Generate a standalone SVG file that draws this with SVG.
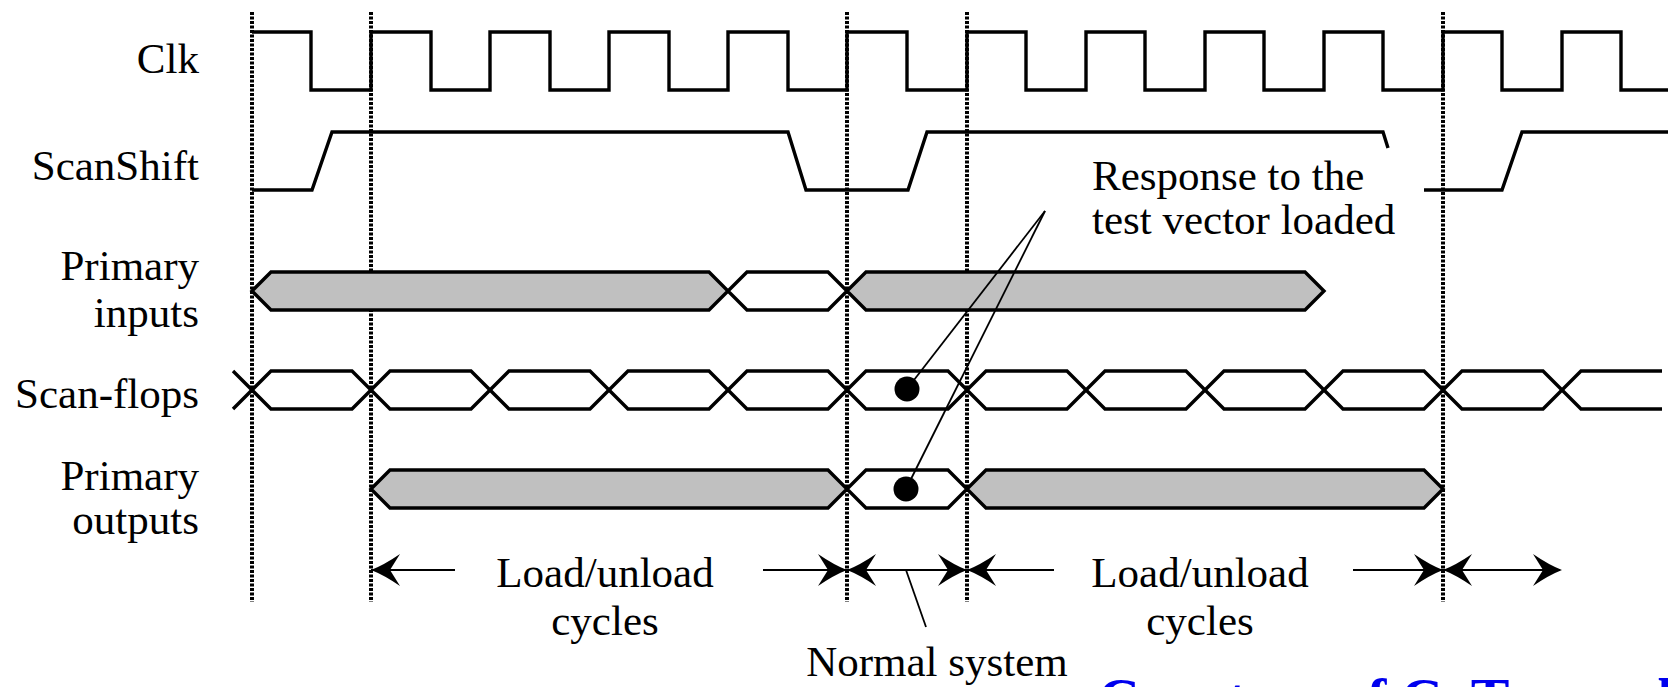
<svg xmlns="http://www.w3.org/2000/svg" width="1668" height="687" viewBox="0 0 1668 687">
<style>
.lbl{font-family:"Liberation Serif","Times New Roman",serif;font-size:43px;fill:#000}
.end{text-anchor:end}
.mid{text-anchor:middle}
.wave{fill:none;stroke:#000;stroke-width:3.4;stroke-linejoin:miter}
.bus{stroke:#000;stroke-width:3.4;stroke-linejoin:miter}
.gray{fill:#c0c0c0}
.white{fill:#fff}
.dot{stroke:#000;stroke-width:4;stroke-dasharray:3 1.5;fill:none}
.thin{stroke:#000;stroke-width:1.8;fill:none}
.credit{font-family:"Liberation Serif","Times New Roman",serif;font-size:58px;font-weight:bold;fill:#0000ee}
</style>
<defs>
<path id="ah" d="M0,0 Q-13,-5 -29,-16 L-19,0 L-29,16 Q-13,5 0,0 Z" fill="#000"/>
</defs>
<rect width="1668" height="687" fill="#fff"/>

<g id="gridlines">
<line class="dot" x1="252" y1="12" x2="252" y2="602"/>
<line class="dot" x1="371" y1="12" x2="371" y2="602"/>
<line class="dot" x1="847" y1="12" x2="847" y2="602"/>
<line class="dot" x1="967" y1="12" x2="967" y2="602"/>
<line class="dot" x1="1443" y1="12" x2="1443" y2="602"/>
</g>

<g id="labels">
<text class="lbl end" x="199" y="73">Clk</text>
<text class="lbl end" x="199" y="180">ScanShift</text>
<text class="lbl end" x="199" y="280">Primary</text>
<text class="lbl end" x="199" y="327">inputs</text>
<text class="lbl end" x="199" y="408">Scan-flops</text>
<text class="lbl end" x="199" y="490">Primary</text>
<text class="lbl end" x="199" y="534">outputs</text>
</g>

<g id="clk">
<path class="wave" d="M252,32 H311 V90 H371 V32 H431 V90 H490 V32 H550 V90 H609 V32 H669 V90 H728 V32 H788 V90 H847 V32 H907 V90 H967 V32 H1026 V90 H1086 V32 H1145 V90 H1205 V32 H1264 V90 H1324 V32 H1383 V90 H1443 V32 H1502 V90 H1562 V32 H1621 V90 H1668"/>
</g>

<g id="scanshift">
<path class="wave" d="M252,190 H312 L332,132 H788 L806,190 H908 L927,132 H1383 L1388,148"/>
<path class="wave" d="M1424,190 H1502 L1522,132 H1668"/>
</g>

<g id="primary-inputs">
<polygon class="bus gray" points="252,291 271,272 709,272 728,291 709,310 271,310"/>
<polygon class="bus white" points="728,291 747,272 828,272 847,291 828,310 747,310"/>
<polygon class="bus gray" points="847,291 866,272 1305,272 1324,291 1305,310 866,310"/>
</g>

<g id="scan-flops">
<polyline class="wave" points="233,409 271,371 352,371 390,409 471,409 509,371 590,371 628,409 709,409 747,371 828,371 866,409 948,409 986,371 1067,371 1105,409 1186,409 1224,371 1305,371 1343,409 1424,409 1462,371 1543,371 1581,409 1662,409"/>
<polyline class="wave" points="233,371 271,409 352,409 390,371 471,371 509,409 590,409 628,371 709,371 747,409 828,409 866,371 948,371 986,409 1067,409 1105,371 1186,371 1224,409 1305,409 1343,371 1424,371 1462,409 1543,409 1581,371 1662,371"/>
<circle cx="907" cy="389" r="12.5" fill="#000"/>
</g>

<g id="primary-outputs">
<polygon class="bus gray" points="371,489 390,470 828,470 847,489 828,508 390,508"/>
<polygon class="bus white" points="847,489 866,470 948,470 967,489 948,508 866,508"/>
<polygon class="bus gray" points="967,489 986,470 1424,470 1443,489 1424,508 986,508"/>
<circle cx="906" cy="489" r="12.5" fill="#000"/>
</g>

<g id="response-note">
<text class="lbl" x="1092" y="190">Response to the</text>
<text class="lbl" x="1092" y="234">test vector loaded</text>
</g>

<g id="phase-labels">
<text class="lbl mid" x="605" y="587">Load/unload</text>
<text class="lbl mid" x="605" y="635">cycles</text>
<text class="lbl mid" x="1200" y="587">Load/unload</text>
<text class="lbl mid" x="1200" y="635">cycles</text>
<text class="lbl mid" x="937" y="676">Normal system</text>
</g>

<g id="connectors">
<line class="thin" x1="1045" y1="211" x2="907" y2="389"/>
<line class="thin" x1="1045" y1="211" x2="906" y2="489"/>
<line class="thin" x1="906" y1="570" x2="926" y2="627"/>
<line class="thin" x1="371" y1="570" x2="455" y2="570"/>
<use href="#ah" transform="translate(371,570) rotate(180)"/>
<line class="thin" x1="763" y1="570" x2="1054" y2="570"/>
<use href="#ah" transform="translate(847,570)"/>
<use href="#ah" transform="translate(847,570) rotate(180)"/>
<use href="#ah" transform="translate(967,570)"/>
<use href="#ah" transform="translate(967,570) rotate(180)"/>
<line class="thin" x1="1353" y1="570" x2="1560" y2="570"/>
<use href="#ah" transform="translate(1443,570)"/>
<use href="#ah" transform="translate(1443,570) rotate(180)"/>
<use href="#ah" transform="translate(1562,570)"/>
</g>

<g id="credit">
<text class="credit" x="1098" y="718">Courtesy of C. Tan and</text>
</g>
</svg>
